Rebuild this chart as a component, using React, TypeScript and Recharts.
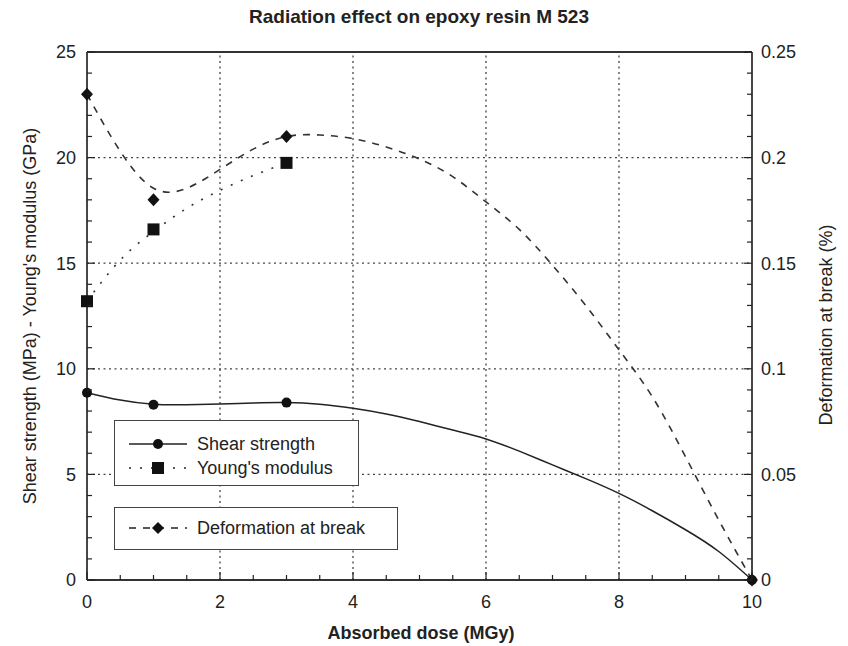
import { LineChart, Line, XAxis, YAxis, ReferenceLine } from "recharts";

const FONT = "'Liberation Sans', Arial, Helvetica, sans-serif";
const INK = "#222";

// measured points (MGy)
const DOSE = [0, 1, 3, 10];
const SHEAR = [8.87, 8.3, 8.4, 0];
const YOUNG = [13.2, 16.6, 19.75];
const DEFORM = [0.23, 0.18, 0.21, 0];

// drawn fit curves, every 0.5 MGy
const FIT_DOSE = [0, 0.5, 1, 1.5, 2, 2.5, 3, 3.5, 4, 4.5, 5, 5.5, 6, 6.5, 7, 7.5, 8, 8.5, 9, 9.5, 10];
const SHEAR_FIT = [8.87, 8.52, 8.32, 8.3, 8.33, 8.38, 8.4, 8.32, 8.13, 7.86, 7.5, 7.1, 6.68, 6.1, 5.45, 4.8, 4.1, 3.28, 2.38, 1.35, 0];
const YOUNG_FIT = [13.2, 15.15, 16.5, 17.6, 18.45, 19.15, 19.75];
const DEFORM_FIT = [0.23, 0.203, 0.1855, 0.1855, 0.1944, 0.204, 0.21, 0.2107, 0.209, 0.205, 0.1993, 0.191, 0.179, 0.166, 0.149, 0.13, 0.109, 0.0868, 0.0584, 0.0284, 0];

const X_MAJOR = [0, 2, 4, 6, 8, 10];
const LEFT_MAJOR = [0, 5, 10, 15, 20, 25];
const RIGHT_MAJOR = [0, 0.05, 0.1, 0.15, 0.2, 0.25];
const GRID_X = [2, 4, 6, 8];
const GRID_Y = [5, 10, 15, 20];

const X_MINOR = Array.from({ length: 21 }, (_, i) => i * 0.5);
const LEFT_MINOR = Array.from({ length: 26 }, (_, i) => i);
const RIGHT_MINOR = Array.from({ length: 26 }, (_, i) => Number((i * 0.01).toFixed(2)));

const pts = (xs: number[], ys: number[]) => ys.map((y, i) => ({ x: xs[i], y }));

const isMajor = (v: number, majors: number[]) => majors.some((m) => Math.abs(m - v) < 1e-6);

const LABEL_SIZE = 18;

function xTick(side: "bottom" | "top") {
  return (p: any) => {
    const v = p.payload.value;
    const major = isMajor(v, X_MAJOR);
    const len = major ? 8 : 5;
    const dir = side === "bottom" ? -1 : 1;
    return (
      <g key={`${side}-${p.index}`}>
        <line x1={p.x} x2={p.x} y1={p.y} y2={p.y + dir * len} stroke={INK} strokeWidth={1.2} />
        {side === "bottom" && major && (
          <text x={p.x} y={p.y + 28} textAnchor="middle" fontSize={LABEL_SIZE} fill={INK} fontFamily={FONT}>
            {v}
          </text>
        )}
      </g>
    );
  };
}

function yTick(side: "left" | "right") {
  return (p: any) => {
    const v = p.payload.value;
    const major = isMajor(v, side === "left" ? LEFT_MAJOR : RIGHT_MAJOR);
    const len = major ? 8 : 5;
    const dir = side === "left" ? 1 : -1;
    return (
      <g key={`${side}-${p.index}`}>
        <line x1={p.x} x2={p.x + dir * len} y1={p.y} y2={p.y} stroke={INK} strokeWidth={1.2} />
        {major && (
          <text
            x={side === "left" ? p.x - 11 : p.x + 9}
            y={p.y}
            dy="0.36em"
            textAnchor={side === "left" ? "end" : "start"}
            fontSize={LABEL_SIZE}
            fill={INK}
            fontFamily={FONT}
          >
            {String(Number(v.toFixed(2)))}
          </text>
        )}
      </g>
    );
  };
}

const Circle = ({ cx, cy }: { cx?: number; cy?: number }) =>
  cx == null || cy == null ? null : <circle cx={cx} cy={cy} r={5} fill="#111" />;
const Square = ({ cx, cy }: { cx?: number; cy?: number }) =>
  cx == null || cy == null ? null : <rect x={cx - 6} y={cy - 6} width={12} height={12} fill="#111" />;
const Diamond = ({ cx, cy }: { cx?: number; cy?: number }) =>
  cx == null || cy == null ? null : (
    <polygon points={`${cx},${cy - 6.5} ${cx + 6},${cy} ${cx},${cy + 6.5} ${cx - 6},${cy}`} fill="#111" />
  );

const dotOf = (Shape: any, name: string) => (p: any) =>
  <Shape key={`${name}-${p.index}`} cx={p.cx} cy={p.cy} />;

const axisLine = { stroke: "#333", strokeWidth: 1.8 };

function LegendIcon({ dash, marker }: { dash?: string; marker: "circle" | "square" | "diamond" }) {
  return (
    <svg width={58} height={14} style={{ display: "block" }}>
      <line x1={0} x2={58} y1={7} y2={7} stroke={INK} strokeWidth={1.5} strokeDasharray={dash} />
      {marker === "circle" && <circle cx={29} cy={7} r={5} fill="#111" />}
      {marker === "square" && <rect x={23} y={1} width={12} height={12} fill="#111" />}
      {marker === "diamond" && <polygon points="29,1 35,7 29,13 23,7" fill="#111" />}
    </svg>
  );
}

const legendBox: React.CSSProperties = {
  position: "absolute",
  left: 114,
  boxSizing: "border-box",
  border: "1.5px solid #444",
  background: "#fff",
  fontFamily: FONT,
  fontSize: 18,
  color: INK,
};

const row = (top: number): React.CSSProperties => ({
  position: "absolute",
  left: 14,
  top,
  height: 20,
  display: "flex",
  alignItems: "center",
  gap: 10,
  whiteSpace: "nowrap",
});

const title: React.CSSProperties = {
  position: "absolute",
  transform: "translate(-50%,-50%)",
  color: INK,
  whiteSpace: "nowrap",
  fontSize: 18,
};

export default function App() {
  return (
    <div style={{ position: "absolute", left: 0, top: 0, width: 848, height: 646, background: "#fff", fontFamily: FONT }}>
      <div style={{ ...title, left: 419, top: 17, fontWeight: "bold", fontSize: 19 }}>
        Radiation effect on epoxy resin M 523
      </div>
      <LineChart width={848} height={646} margin={{ top: 22, right: 36, bottom: 36, left: 27 }}>
        <XAxis
          xAxisId="b"
          type="number"
          dataKey="x"
          domain={[0, 10]}
          ticks={X_MINOR}
          interval={0}
          height={30}
          tickSize={0}
          tickMargin={0}
          tickLine={false}
          axisLine={axisLine}
          tick={xTick("bottom")}
        />
        <XAxis
          xAxisId="t"
          orientation="top"
          type="number"
          dataKey="x"
          domain={[0, 10]}
          ticks={X_MINOR}
          interval={0}
          height={30}
          tickSize={0}
          tickMargin={0}
          tickLine={false}
          axisLine={axisLine}
          tick={xTick("top")}
        />
        <YAxis
          yAxisId="l"
          type="number"
          domain={[0, 25]}
          ticks={LEFT_MINOR}
          interval={0}
          width={60}
          tickSize={0}
          tickMargin={0}
          tickLine={false}
          axisLine={axisLine}
          tick={yTick("left")}
        />
        <YAxis
          yAxisId="r"
          orientation="right"
          type="number"
          domain={[0, 0.25]}
          ticks={RIGHT_MINOR}
          interval={0}
          width={60}
          tickSize={0}
          tickMargin={0}
          tickLine={false}
          axisLine={axisLine}
          tick={yTick("right")}
        />
        {GRID_X.map((v) => (
          <ReferenceLine key={`gx${v}`} x={v} xAxisId="b" yAxisId="l" stroke="#444" strokeWidth={1.3} strokeDasharray="2 3.5" />
        ))}
        {GRID_Y.map((v) => (
          <ReferenceLine key={`gy${v}`} y={v} xAxisId="b" yAxisId="l" stroke="#444" strokeWidth={1.3} strokeDasharray="2 3.5" />
        ))}

        <Line xAxisId="b" yAxisId="l" data={pts(FIT_DOSE, SHEAR_FIT)} dataKey="y" type="natural" stroke={INK} strokeWidth={1.5} dot={false} activeDot={false} isAnimationActive={false} />
        <Line xAxisId="b" yAxisId="l" data={pts(FIT_DOSE, YOUNG_FIT)} dataKey="y" type="natural" stroke="#333" strokeWidth={1.6} strokeDasharray="2 9" dot={false} activeDot={false} isAnimationActive={false} />
        <Line xAxisId="b" yAxisId="r" data={pts(FIT_DOSE, DEFORM_FIT)} dataKey="y" type="natural" stroke="#333" strokeWidth={1.6} strokeDasharray="7 7" dot={false} activeDot={false} isAnimationActive={false} />

        <Line xAxisId="b" yAxisId="l" data={pts(DOSE, SHEAR)} dataKey="y" stroke="none" dot={dotOf(Circle, "s")} activeDot={false} isAnimationActive={false} />
        <Line xAxisId="b" yAxisId="l" data={pts(DOSE, YOUNG)} dataKey="y" stroke="none" dot={dotOf(Square, "y")} activeDot={false} isAnimationActive={false} />
        <Line xAxisId="b" yAxisId="r" data={pts(DOSE, DEFORM)} dataKey="y" stroke="none" dot={dotOf(Diamond, "d")} activeDot={false} isAnimationActive={false} />
      </LineChart>

      <div style={{ ...title, left: 421, top: 633, fontWeight: "bold" }}>
        Absorbed dose (MGy)
      </div>
      <div style={{ ...title, left: 30, top: 316, transform: "translate(-50%,-50%) rotate(-90deg)" }}>
        Shear strength (MPa) - Young's modulus (GPa)
      </div>
      <div style={{ ...title, left: 826, top: 325, transform: "translate(-50%,-50%) rotate(-90deg)" }}>
        Deformation at break (%)
      </div>

      <div style={{ ...legendBox, top: 420, width: 245, height: 66 }}>
        <div style={row(13)}>
          <LegendIcon marker="circle" />
          <span>Shear strength</span>
        </div>
        <div style={row(37)}>
          <LegendIcon marker="square" dash="2 9" />
          <span>Young's modulus</span>
        </div>
      </div>
      <div style={{ ...legendBox, top: 507, width: 284, height: 43 }}>
        <div style={row(10)}>
          <LegendIcon marker="diamond" dash="7 7" />
          <span>Deformation at break</span>
        </div>
      </div>
    </div>
  );
}
